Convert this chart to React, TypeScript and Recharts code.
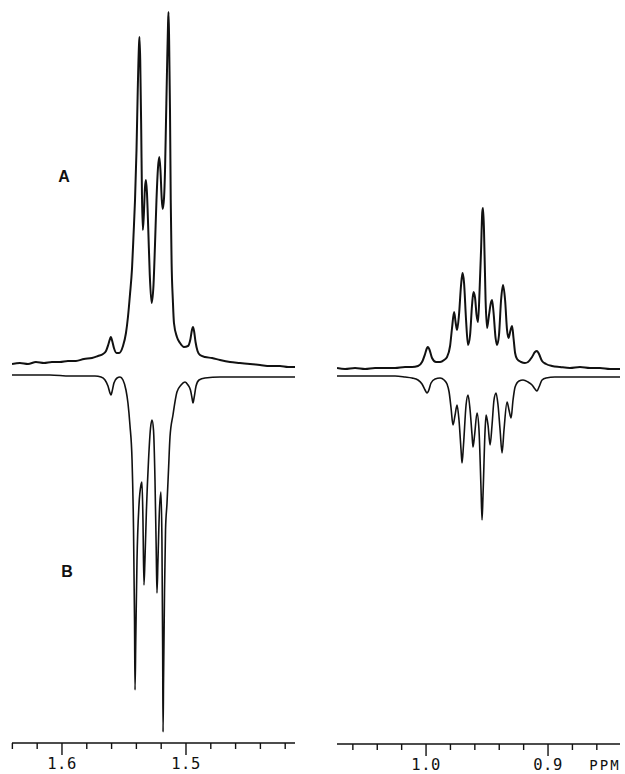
import React from 'react';
import { LineChart, Line, XAxis, YAxis } from 'recharts';

// ---- Left region (1.64 - 1.41 ppm) ----
const leftAPpm = [1.6403, 1.6339, 1.6274, 1.6210, 1.6145, 1.6081, 1.6016, 1.5952, 1.5887, 1.5823, 1.5758, 1.5710, 1.5669, 1.5645, 1.5625, 1.5610, 1.5605, 1.5597, 1.5581, 1.5560, 1.5540, 1.5508, 1.5484, 1.5468, 1.5452, 1.5435, 1.5423, 1.5411, 1.5399, 1.5389, 1.5379, 1.5375, 1.5369, 1.5361, 1.5355, 1.5348, 1.5340, 1.5331, 1.5323, 1.5315, 1.5304, 1.5292, 1.5277, 1.5262, 1.5250, 1.5238, 1.5226, 1.5215, 1.5206, 1.5196, 1.5188, 1.5177, 1.5169, 1.5161, 1.5153, 1.5145, 1.5141, 1.5136, 1.5129, 1.5123, 1.5116, 1.5106, 1.5097, 1.5073, 1.5048, 1.5016, 1.4984, 1.4964, 1.4952, 1.4944, 1.4935, 1.4923, 1.4907, 1.4887, 1.4847, 1.4790, 1.4726, 1.4645, 1.4565, 1.4484, 1.4403, 1.4323, 1.4242, 1.4177, 1.4121];
const leftAInt = [3, 4, 3, 5, 4, 5, 5, 6, 6, 8, 9, 11, 13, 16, 23, 29, 30, 27, 19, 14, 14, 21, 34, 50, 72, 99, 132, 167, 217, 277, 322, 330, 307, 237, 172, 137, 152, 179, 187, 175, 137, 92, 64, 82, 122, 167, 199, 210, 197, 169, 158, 169, 197, 247, 297, 342, 355, 327, 257, 167, 104, 67, 44, 30, 24, 20, 21, 28, 37, 40, 36, 25, 16, 12, 10, 9, 7, 5, 4, 3, 2, 1, 1, 0, 0];

const leftBPpm = [1.6403, 1.6258, 1.6097, 1.5935, 1.5815, 1.5734, 1.5685, 1.5653, 1.5629, 1.5613, 1.5605, 1.5597, 1.5581, 1.5556, 1.5532, 1.5508, 1.5484, 1.5468, 1.5452, 1.5435, 1.5423, 1.5415, 1.5411, 1.5405, 1.5395, 1.5379, 1.5363, 1.5355, 1.5347, 1.5339, 1.5331, 1.5319, 1.5302, 1.5286, 1.5274, 1.5262, 1.5250, 1.5240, 1.5234, 1.5226, 1.5214, 1.5202, 1.5194, 1.5188, 1.5185, 1.5181, 1.5173, 1.5165, 1.5153, 1.5141, 1.5129, 1.5105, 1.5073, 1.5040, 1.5008, 1.4984, 1.4964, 1.4950, 1.4944, 1.4935, 1.4919, 1.4895, 1.4847, 1.4726, 1.4565, 1.4403, 1.4242, 1.4121];
const leftBInt = [-2, -2, -2, -1, -1, -1, 0, 3, 9, 16, 18, 15, 6, 1, 0, 3, 13, 26, 48, 83, 153, 243, 313, 263, 183, 128, 108, 105, 143, 208, 183, 133, 83, 51, 43, 53, 103, 173, 216, 183, 133, 115, 163, 273, 355, 303, 213, 153, 126, 93, 60, 38, 15, 8, 5, 8, 13, 22, 26, 21, 9, 3, 1, 0, 0, 0, 0, 0];

// ---- Right region (1.07 - 0.84 ppm) ----
const rightAPpm = [1.0730, 1.0664, 1.0582, 1.0500, 1.0418, 1.0336, 1.0254, 1.0172, 1.0115, 1.0066, 1.0033, 1.0008, 0.9992, 0.9984, 0.9971, 0.9951, 0.9918, 0.9885, 0.9852, 0.9828, 0.9803, 0.9787, 0.9770, 0.9758, 0.9746, 0.9730, 0.9713, 0.9701, 0.9689, 0.9672, 0.9656, 0.9639, 0.9623, 0.9611, 0.9598, 0.9586, 0.9574, 0.9561, 0.9549, 0.9539, 0.9533, 0.9525, 0.9512, 0.9500, 0.9484, 0.9467, 0.9459, 0.9447, 0.9430, 0.9418, 0.9402, 0.9385, 0.9369, 0.9352, 0.9336, 0.9324, 0.9307, 0.9295, 0.9283, 0.9270, 0.9254, 0.9221, 0.9189, 0.9164, 0.9131, 0.9107, 0.9090, 0.9074, 0.9049, 0.9016, 0.8967, 0.8902, 0.8820, 0.8738, 0.8656, 0.8574, 0.8492, 0.8410];
const rightAInt = [0, -1, 0, -1, 0, 0, 0, 1, 1, 2, 6, 14, 20, 21, 18, 10, 6, 6, 8, 11, 22, 40, 56, 46, 38, 53, 83, 95, 86, 48, 23, 33, 63, 76, 70, 53, 46, 78, 118, 156, 160, 138, 68, 40, 53, 66, 68, 56, 30, 23, 33, 68, 83, 68, 38, 30, 38, 42, 30, 15, 9, 6, 5, 6, 11, 16, 17, 14, 7, 4, 2, 1, 0, 1, 0, 0, -1, -1];

const rightBPpm = [1.0730, 1.0623, 1.0500, 1.0377, 1.0254, 1.0172, 1.0115, 1.0066, 1.0033, 1.0008, 0.9992, 0.9980, 0.9959, 0.9926, 0.9885, 0.9852, 0.9828, 0.9811, 0.9795, 0.9779, 0.9762, 0.9746, 0.9730, 0.9713, 0.9705, 0.9693, 0.9672, 0.9656, 0.9639, 0.9623, 0.9615, 0.9602, 0.9582, 0.9566, 0.9549, 0.9541, 0.9533, 0.9516, 0.9508, 0.9492, 0.9475, 0.9459, 0.9443, 0.9426, 0.9410, 0.9393, 0.9377, 0.9361, 0.9336, 0.9320, 0.9303, 0.9287, 0.9270, 0.9238, 0.9205, 0.9164, 0.9131, 0.9107, 0.9090, 0.9074, 0.9049, 0.9016, 0.8943, 0.8820, 0.8697, 0.8574, 0.8410];
const rightBInt = [-1, -1, -1, -1, -1, 0, 1, 3, 7, 13, 16, 14, 6, 2, 1, 3, 7, 15, 31, 48, 38, 28, 43, 73, 86, 68, 28, 18, 33, 58, 70, 58, 36, 53, 113, 143, 118, 53, 38, 48, 68, 48, 23, 16, 28, 53, 76, 53, 25, 33, 41, 23, 10, 4, 3, 5, 8, 12, 14, 10, 3, 1, 0, 0, 0, 0, 0];

// ---- Axis ticks ----
const leftTicks = [1.64, 1.62, 1.6, 1.58, 1.56, 1.54, 1.52, 1.5, 1.48, 1.46, 1.44, 1.42];
const rightTicks = [1.06, 1.04, 1.02, 1.0, 0.98, 0.96, 0.94, 0.92, 0.9, 0.88, 0.86];
const majorTicks = [1.6, 1.5, 1.0, 0.9];
const majorLabels = ['1.6', '1.5', '1.0', '0.9'];
const unitLabel = 'PPM';
const traceLabels = ['A', 'B'];

const INK = '#111';
const A_OFFSET = 376;
const B_OFFSET = 366;

const build = (ppm: number[], vals: number[], offset: number, sign: number) =>
  ppm.map((p, i) => ({ ppm: p, v: offset + sign * vals[i] }));

const Tick = (props: any) => {
  const { x, y, payload } = props;
  const idx = majorTicks.findIndex((m) => Math.abs(m - payload.value) < 1e-6);
  const major = idx >= 0;
  return (
    <g>
      <line x1={x} x2={x} y1={y} y2={y + (major ? 12 : 6)} stroke={INK} strokeWidth={1.4} />
      {major && (
        <text x={x} y={y + 26} textAnchor="middle" fontFamily="DejaVu Sans Mono" fontSize={15.5} letterSpacing={0.5} fill={INK}>
          {majorLabels[idx]}
        </text>
      )}
    </g>
  );
};

const Panel = ({ aData, bData, domain, ticks, width, height, marginLeft }: any) => (
  <LineChart width={width} height={height} margin={{ top: 0, right: 5, bottom: 0, left: marginLeft }}>
    <XAxis
      type="number"
      dataKey="ppm"
      domain={domain}
      reversed
      allowDataOverflow
      ticks={ticks}
      interval={0}
      tick={<Tick />}
      tickLine={false}
      tickSize={0}
      tickMargin={0}
      axisLine={{ stroke: INK, strokeWidth: 1.5 }}
      height={height - 743}
    />
    <YAxis type="number" domain={[0, 743]} hide allowDataOverflow />
    <Line data={aData} dataKey="v" type="monotone" stroke={INK} strokeWidth={2} dot={false} isAnimationActive={false} />
    <Line data={bData} dataKey="v" type="monotone" stroke={INK} strokeWidth={1.6} dot={false} isAnimationActive={false} />
  </LineChart>
);

export default function App() {
  const lA = build(leftAPpm, leftAInt, A_OFFSET, 1);
  const lB = build(leftBPpm, leftBInt, B_OFFSET, -1);
  const rA = build(rightAPpm, rightAInt, A_OFFSET, 1);
  const rB = build(rightBPpm, rightBInt, B_OFFSET + 1, -1);
  return (
    <div style={{ position: 'fixed', left: 0, top: 0, width: 625, height: 774, background: '#fff', overflow: 'hidden' }}>
      <div style={{ position: 'absolute', left: 0, top: 0 }}>
        <Panel aData={lA} bData={lB} domain={[1.4121, 1.6403]} ticks={leftTicks} width={300} height={774} marginLeft={12} />
      </div>
      <div style={{ position: 'absolute', left: 330, top: 1 }}>
        <Panel aData={rA} bData={rB} domain={[0.841, 1.073]} ticks={rightTicks} width={295} height={773} marginLeft={7} />
      </div>
      <svg width={625} height={774} style={{ position: 'absolute', left: 0, top: 0, pointerEvents: 'none' }}>
        <text x={64} y={182} textAnchor="middle" fontFamily="Liberation Sans" fontWeight="bold" fontSize={16} fill={INK}>
          {traceLabels[0]}
        </text>
        <text x={67} y={577} textAnchor="middle" fontFamily="Liberation Sans" fontWeight="bold" fontSize={16} fill={INK}>
          {traceLabels[1]}
        </text>
        <text x={605} y={770} textAnchor="middle" fontFamily="DejaVu Sans Mono" fontSize={14} letterSpacing={2} fill={INK}>
          {unitLabel}
        </text>
      </svg>
    </div>
  );
}
